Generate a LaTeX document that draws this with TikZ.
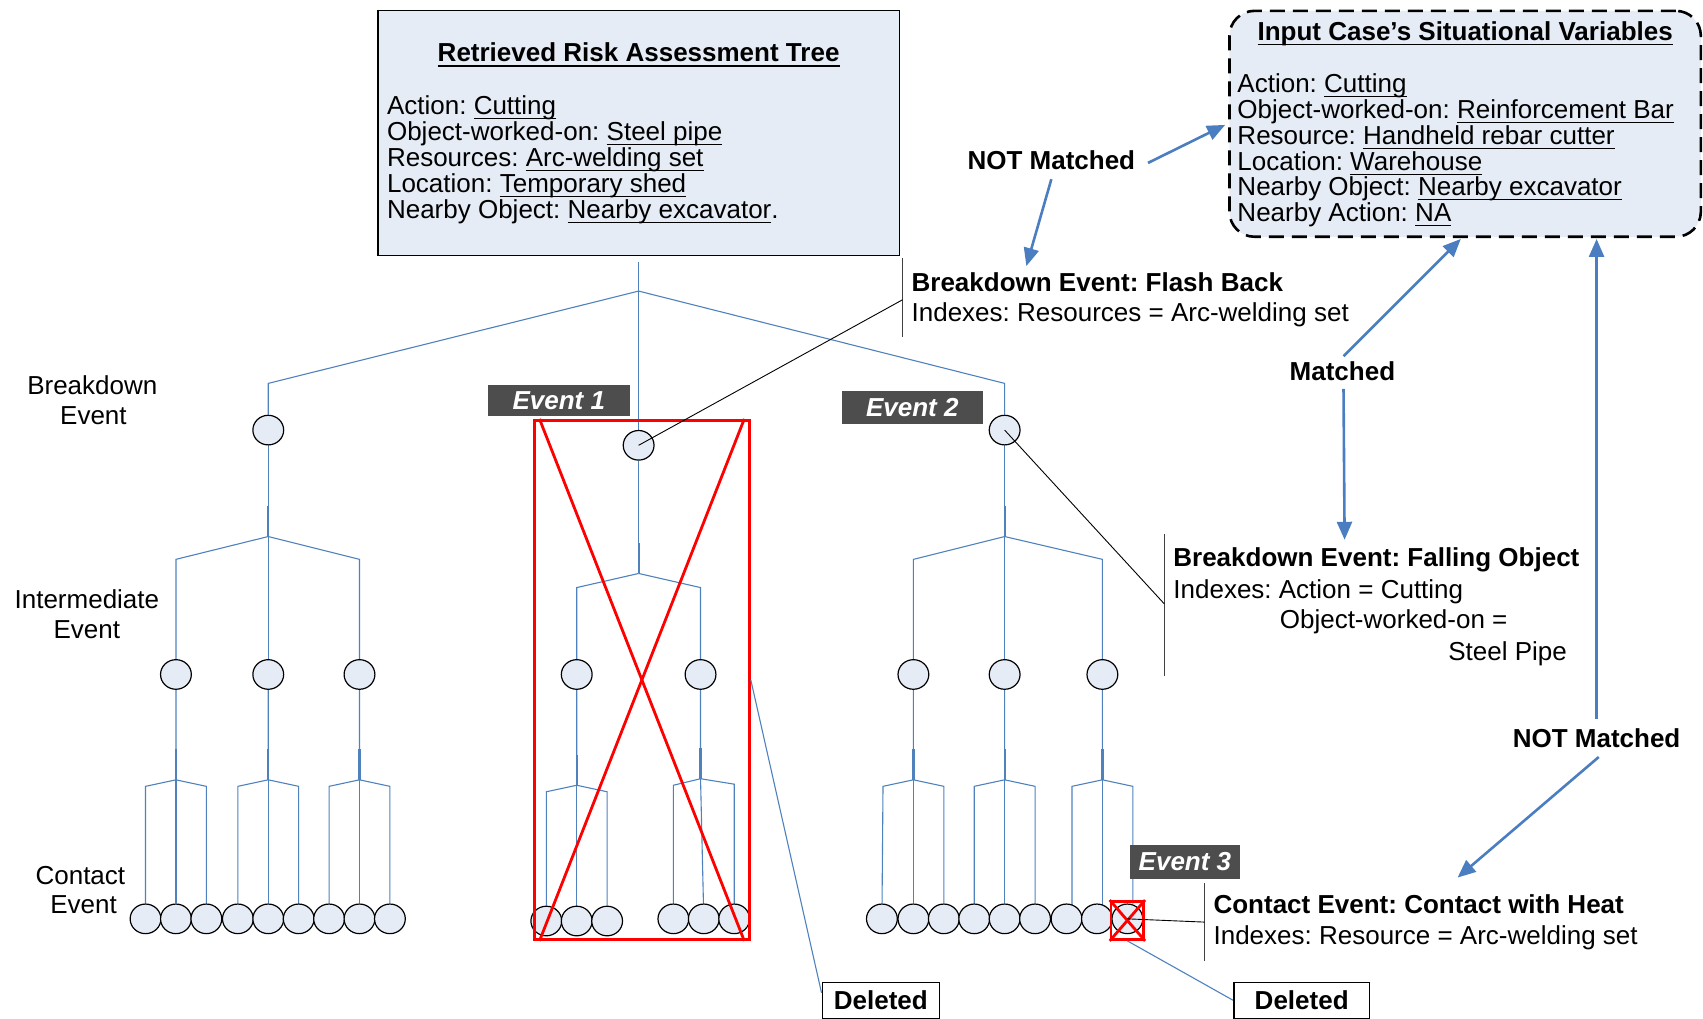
\documentclass[tikz,border=0pt]{standalone}
\usepackage{fontspec}
\setmainfont{Liberation Sans}
\usetikzlibrary{arrows.meta,fit,calc,backgrounds,shapes.geometric}
\frenchspacing
\newcommand{\fsz}{\fontsize{13}{15}\selectfont}
% underlined text with the rule just under the descenders
\newsavebox{\undlbox}
\newcommand{\undl}[1]{\sbox{\undlbox}{#1}\rlap{\rule[-2.3pt]{\wd\undlbox}{0.55pt}}\usebox{\undlbox}}
\definecolor{treeblue}{RGB}{79,129,189}
\definecolor{arrowblue}{RGB}{74,126,193}
\definecolor{panelfill}{RGB}{230,236,245}
\definecolor{nodefill}{RGB}{230,236,246}
\definecolor{taggrey}{RGB}{77,77,77}
\definecolor{crossred}{RGB}{255,0,0}
% one branch point feeding three contact events
\newcommand{\trio}[5]{%
  \draw[tl] (#1) -- (#2) -- ++(-28,6) -- (#3);
  \draw[tl] (#2) -- (#4);
  \draw[tl] (#2) -- ++(28,6) -- (#5);
  \draw[stub] (#2) -- ++(0,-28);}

\begin{document}
\begin{tikzpicture}[x=0.54305pt,y=-0.54305pt,
  every node/.style={font=\fsz},
  tl/.style={draw=treeblue,line width=0.55pt},
  stub/.style={draw=treeblue,line width=1.1pt},
  ev/.style={ellipse,draw=black,line width=0.6pt,fill=nodefill,
    minimum width=15.4pt,minimum height=14.8pt,inner sep=0pt},
  panel/.style={draw=black,line width=0.6pt,fill=panelfill,inner sep=0pt},
  inpanel/.style={draw=black,line width=1.3pt,dash pattern=on 7.5pt off 4pt,
    fill=panelfill,rounded corners=12.5pt,inner sep=0pt},
  txt/.style={inner sep=0pt,anchor=base west},
  ctxt/.style={inner sep=0pt,anchor=base},
  tag/.style={fill=taggrey,text=white,font=\fsz\bfseries\itshape,inner sep=0pt},
  delbox/.style={draw=black,line width=0.7pt,fill=white,font=\fsz\bfseries,inner sep=0pt},
  arr/.style={draw=arrowblue,line width=1.3pt,-{Triangle[length=9pt,width=7.5pt]}},
  bar/.style={draw=black!75,line width=0.75pt},
  lead/.style={draw=black,line width=0.45pt},
  cross/.style={draw=crossred,line width=1.4pt},
  redbox/.style={draw=crossred,line width=1.4pt,inner sep=0pt}
]
\useasboundingbox (0,0) rectangle (1568,938);

% ---------- panels ----------
\coordinate (rA) at (348,10);
\coordinate (rB) at (828,235);
\node[panel,fit=(rA)(rB)] (rtree) {};
\node[ctxt,font=\fsz\bfseries] (rtTitle) at (588,57) {\undl{Retrieved Risk Assessment Tree}};
\node[txt] (rt1) at (356,105) {Action: \undl{Cutting}};
\node[txt] (rt2) at (356,129) {Object-worked-on: \undl{Steel pipe}};
\node[txt] (rt3) at (356,153) {Resources: \undl{Arc-welding set}};
\node[txt] (rt4) at (356,177) {Location: \undl{Temporary shed}};
\node[txt] (rt5) at (356,201) {Nearby Object: \undl{Nearby excavator}.};

\coordinate (iA) at (1132,10);
\coordinate (iB) at (1566,218);
\node[inpanel,fit=(iA)(iB)] (incase) {};
\node[ctxt,font=\fsz\bfseries] (inTitle) at (1349,37) {\undl{Input Case’s Situational Variables}};
\node[txt] (in1) at (1139,85) {Action: \undl{Cutting}};
\node[txt] (in2) at (1139,109) {Object-worked-on: \undl{Reinforcement Bar}};
\node[txt] (in3) at (1139,133) {Resource: \undl{Handheld rebar cutter}};
\node[txt] (in4) at (1139,157) {Location: \undl{Warehouse}};
\node[txt] (in5) at (1139,180) {Nearby Object: \undl{Nearby excavator}};
\node[txt] (in6) at (1139,204) {Nearby Action: \undl{NA}};

% ---------- level labels ----------
\node[ctxt] (lbB1) at (85,363) {Breakdown};
\node[ctxt] (lbB2) at (86,391) {Event};
\node[ctxt] (lbI1) at (80,560) {Intermediate};
\node[ctxt] (lbI2) at (80,588) {Event};
\node[ctxt] (lbC1) at (74,814) {Contact};
\node[ctxt] (lbC2) at (77,841) {Event};

% ---------- event nodes ----------
\node[ev] (B1) at (247,396) {};
\node[ev] (B2) at (588,410) {};
\node[ev] (B3) at (925,396) {};

\node[ev] (LI1) at (162,621) {};
\node[ev] (LI2) at (247,621) {};
\node[ev] (LI3) at (331,621) {};
\node[ev] (MI1) at (531,621) {};
\node[ev] (MI2) at (645,621) {};
\node[ev] (RI1) at (841,621) {};
\node[ev] (RI2) at (925,621) {};
\node[ev] (RI3) at (1015,621) {};

\foreach \n/\x in {1/134,2/162,3/190,4/219,5/247,6/275,7/303,8/331,9/359}
  \node[ev] (L\n) at (\x,846) {};
\foreach \n/\x in {1/503,2/531,3/559}
  \node[ev] (M\n) at (\x,848) {};
\foreach \n/\x in {4/620,5/648,6/676}
  \node[ev] (M\n) at (\x,846) {};
\foreach \n/\x in {1/812,2/841,3/869,4/897,5/925,6/953,7/982,8/1010,9/1038}
  \node[ev] (R\n) at (\x,846) {};

% branch points
\coordinate (top0) at (588,241);
\coordinate (J0) at (588,268);
\coordinate (LJ) at (247,494);
\coordinate (MJ) at (588,528);
\coordinate (RJ) at (925,494);
\coordinate (LK1) at (162,718);
\coordinate (LK2) at (247,718);
\coordinate (LK3) at (331,718);
\coordinate (MK1) at (531,723);
\coordinate (MK2) at (645,717);
\coordinate (RK1) at (841,718);
\coordinate (RK2) at (925,718);
\coordinate (RK3) at (1015,718);

% ---------- tree connectors ----------
\begin{scope}[on background layer]
  \draw[tl] (top0) -- (J0);
  \draw[tl] (J0) -- (247,353) -- (B1);
  \draw[tl] (J0) -- (B2);
  \draw[tl] (J0) -- (925,353) -- (B3);

  \draw[tl] (B1) -- (LJ);
  \draw[stub] (LJ) -- ++(0,-28);
  \draw[tl] (LJ) -- ++(-85,21) -- (LI1);
  \draw[tl] (LJ) -- (LI2);
  \draw[tl] (LJ) -- ++(84,21) -- (LI3);

  \draw[tl] (B2) -- (MJ);
  \draw[stub] (MJ) -- ++(0,-28);
  \draw[tl] (MJ) -- ++(-57,13) -- (MI1);
  \draw[tl] (MJ) -- ++(57,13) -- (MI2);

  \draw[tl] (B3) -- (RJ);
  \draw[stub] (RJ) -- ++(0,-28);
  \draw[tl] (RJ) -- ++(-84,21) -- (RI1);
  \draw[tl] (RJ) -- (RI2);
  \draw[tl] (RJ) -- ++(90,21) -- (RI3);

  \trio{LI1}{LK1}{L1}{L2}{L3}
  \trio{LI2}{LK2}{L4}{L5}{L6}
  \trio{LI3}{LK3}{L7}{L8}{L9}
  \trio{MI1}{MK1}{M1}{M2}{M3}
  \draw[tl] (MI2) -- (MK2) -- ++(-25,6) -- (M4);
  \draw[tl] (MK2) -- (M5);
  \draw[tl] (MK2) -- ++(31,5) -- (M6);
  \draw[stub] (MK2) -- ++(0,-28);
  \trio{RI1}{RK1}{R1}{R2}{R3}
  \trio{RI2}{RK2}{R4}{R5}{R6}
  \draw[tl] (RI3) -- (RK3) -- ++(-28,6) -- ++(0,112);
  \draw[tl] (RK3) -- ++(0,116);
  \draw[tl] (RK3) -- ++(28,6) -- ++(0,108);
  \draw[stub] (RK3) -- ++(0,-28);
\end{scope}

% ---------- deletions ----------
\coordinate (xA) at (492,387);
\coordinate (xB) at (690,865);
\node[redbox,fit=(xA)(xB)] (gone1) {};
\draw[cross] ($(gone1.north west)+(6,0)$) -- ($(gone1.south east)+(-6,0)$);
\draw[cross] ($(gone1.north east)+(-6,0)$) -- ($(gone1.south west)+(6,0)$);

\coordinate (yA) at (1023,830);
\coordinate (yB) at (1053,865);
\node[redbox,fit=(yA)(yB)] (gone3) {};
\draw[cross] (gone3.north west) -- (gone3.south east);
\draw[cross] (gone3.north east) -- (gone3.south west);

\node[delbox,minimum width=58.6pt,minimum height=17.9pt] (del1) at (811,921) {Deleted};
\node[delbox,minimum width=67.9pt,minimum height=17.9pt] (del2) at (1198.5,921) {Deleted};
\draw[tl] (gone1.east) -- ($(del1.north west)!0.3!(del1.south west)$);
\draw[tl] (gone3.south) -- (del2.west);

% ---------- event tags ----------
\node[tag,minimum width=71.1pt,minimum height=15.7pt] (tag1) at (514.5,368.5) {Event 1};
\node[tag,minimum width=70.6pt,minimum height=16.3pt] (tag2) at (840,375) {Event 2};
\node[tag,minimum width=55.4pt,minimum height=16.8pt] (tag3) at (1091,793.5) {Event 3};

% ---------- annotations ----------
\coordinate (fbT) at (831,238);
\coordinate (fbB) at (831,310);
\coordinate (fbM) at (831,276);
\draw[bar] (fbT) -- (fbB);
\draw[lead] (B2.center) -- (fbM);
\node[txt,font=\fsz\bfseries] (fbHead) at (839,268) {Breakdown Event: Flash Back};
\node[txt] (fbIdx) at (839,296) {Indexes: Resources = Arc-welding set};

\coordinate (foT) at (1072,492);
\coordinate (foB) at (1072,622);
\coordinate (foM) at (1072,556);
\draw[bar] (foT) -- (foB);
\draw[lead] (B3.center) -- (foM);
\node[txt,font=\fsz\bfseries] (foHead) at (1080,522) {Breakdown Event: Falling Object};
\node[txt] (foIdx1) at (1080,551) {Indexes: Action = Cutting};
\node[txt] (foIdx2) at (1178,579) {Object-worked-on =};
\node[inner sep=0pt,anchor=base east] (foIdx3) at (1443,608) {Steel Pipe};

\coordinate (chT) at (1109,813);
\coordinate (chB) at (1109,885);
\coordinate (chM) at (1109,849);
\draw[bar] (chT) -- (chB);
\draw[lead] (R9.center) -- (chM);
\node[txt,font=\fsz\bfseries] (chHead) at (1117,841) {Contact Event: Contact with Heat};
\node[txt] (chIdx) at (1117,870) {Indexes: Resource = Arc-welding set};

% ---------- matching results ----------
\node[ctxt,font=\fsz\bfseries] (nm1) at (968,156) {NOT Matched};
\node[ctxt,font=\fsz\bfseries] (mt) at (1236,350) {Matched};
\node[ctxt,font=\fsz\bfseries] (nm2) at (1470,688) {NOT Matched};

\coordinate (a1s) at (1057,150);
\coordinate (a1e) at (1128,115);
\coordinate (a2s) at (968,165);
\coordinate (a2e) at (945,245);
\coordinate (a3s) at (1237,328);
\coordinate (a3e) at (1345,220);
\coordinate (a4s) at (1237,358);
\coordinate (a4e) at (1238,497);
\coordinate (a5s) at (1470,662);
\coordinate (a5e) at (1470,220);
\coordinate (a6s) at (1472,697);
\coordinate (a6e) at (1342,808);
\draw[arr] (a1s) -- (a1e);
\draw[arr] (a2s) -- (a2e);
\draw[arr] (a3s) -- (a3e);
\draw[arr] (a4s) -- (a4e);
\draw[arr] (a5s) -- (a5e);
\draw[arr] (a6s) -- (a6e);
\end{tikzpicture}
\end{document}
